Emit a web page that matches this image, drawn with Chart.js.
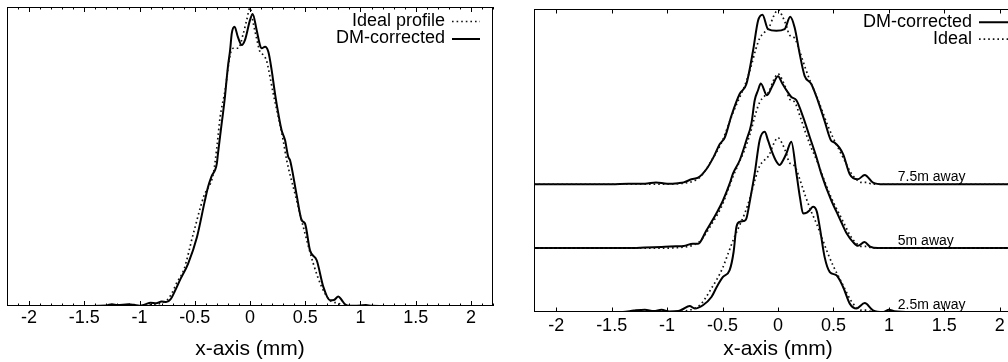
<!DOCTYPE html>
<html>
<head>
<meta charset="utf-8">
<script src="https://cdn.jsdelivr.net/npm/chart.js@4.4.1/dist/chart.umd.min.js"></script>
<style>
html,body{margin:0;padding:0;background:#fff;overflow:hidden;width:1008px;height:362px}
#leftWrap{position:absolute;left:0;top:0;width:500px;height:362px}
#rightWrap{position:absolute;left:520px;top:0;width:520px;height:362px}
</style>
</head>
<body>
<div id="leftWrap"><canvas id="leftChart" width="500" height="362"></canvas></div>
<div id="rightWrap"><canvas id="rightChart" width="520" height="362"></canvas></div>
<script>
// x ticks (mm)
const tickValues = [-2, -1.5, -1, -0.5, 0, 0.5, 1, 1.5, 2];
const tickLabels = ['-2', '-1.5', '-1', '-0.5', '0', '0.5', '1', '1.5', '2'];
const axisTitle = 'x-axis (mm)';

// left panel: single profile
const leftIdealX = [-2.2, -1.0, -0.9, -0.8, -0.75, -0.71, -0.66, -0.6, -0.513, -0.42, -0.332, -0.3, -0.27, -0.226, -0.18, -0.151, -0.106, -0.06, -0.03, 0, 0.03, 0.06, 0.09, 0.12, 0.15, 0.181, 0.21, 0.256, 0.3, 0.332, 0.407, 0.483, 0.573, 0.649, 0.724, 0.8, 0.86, 2.2];
const leftIdealY = [0, 0, 0.004, 0.01, 0.02, 0.041, 0.08, 0.12, 0.242, 0.365, 0.443, 0.53, 0.633, 0.72, 0.84, 0.862, 0.862, 0.912, 0.956, 0.997, 0.945, 0.895, 0.85, 0.84, 0.82, 0.767, 0.711, 0.633, 0.555, 0.488, 0.376, 0.264, 0.142, 0.064, 0.019, 0.009, 0, 0];

const leftDmX = [-2.2, -1.6, -1.3, -1.25, -1.2, -1.1, -1.05, -1.0, -0.95, -0.9, -0.85, -0.8, -0.76, -0.72, -0.68, -0.63, -0.56, -0.48, -0.41, -0.38, -0.35, -0.3, -0.29, -0.26, -0.23, -0.2, -0.18, -0.165, -0.14, -0.11, -0.075, -0.045, 0, 0.024, 0.06, 0.09, 0.106, 0.136, 0.166, 0.196, 0.226, 0.256, 0.286, 0.317, 0.346, 0.362, 0.42, 0.468, 0.498, 0.543, 0.604, 0.664, 0.724, 0.76, 0.8, 0.83, 0.86, 0.9, 1.0, 1.05, 1.1, 1.5, 2.2];
const leftDmY = [0, 0, 0.002, 0.006, 0.003, 0.006, 0.004, 0.001, 0.005, 0.011, 0.009, 0.015, 0.013, 0.022, 0.05, 0.09, 0.142, 0.231, 0.35, 0.398, 0.432, 0.477, 0.51, 0.6, 0.689, 0.8, 0.856, 0.912, 0.934, 0.9, 0.873, 0.89, 0.956, 0.977, 0.923, 0.873, 0.862, 0.867, 0.85, 0.789, 0.711, 0.644, 0.588, 0.555, 0.499, 0.488, 0.376, 0.287, 0.276, 0.186, 0.153, 0.064, 0.019, 0.02, 0.032, 0.02, 0.006, 0.001, 0.002, 0.003, 0.001, 0, 0];

// right panel: three distances, stacked
const distLabels = ['2.5m away', '5m away', '7.5m away'];
const distOffsets = [0, 0.35, 0.7];

const rightIdealX = [-2.2, -1.0, -0.9, -0.8, -0.75, -0.7, -0.65, -0.6, -0.55, -0.5, -0.45, -0.4, -0.35, -0.3, -0.25, -0.2, -0.165, -0.125, -0.08, -0.04, 0, 0.04, 0.08, 0.1, 0.15, 0.2, 0.25, 0.3, 0.35, 0.4, 0.45, 0.5, 0.55, 0.6, 0.65, 0.7, 0.75, 0.8, 0.85, 2.2];
const rightIdealY = [0, 0, 0.003, 0.01, 0.02, 0.04, 0.08, 0.13, 0.18, 0.24, 0.32, 0.40, 0.47, 0.54, 0.63, 0.74, 0.80, 0.83, 0.86, 0.92, 0.955, 0.92, 0.86, 0.82, 0.80, 0.72, 0.63, 0.55, 0.48, 0.40, 0.32, 0.25, 0.19, 0.13, 0.07, 0.03, 0.01, 0.01, 0, 0];

const dm25X = [-2.2, -1.4, -1.3, -1.2, -1.12, -1.05, -0.98, -0.9, -0.86, -0.797, -0.75, -0.677, -0.6, -0.55, -0.496, -0.436, -0.4, -0.375, -0.346, -0.3, -0.285, -0.25, -0.21, -0.165, -0.12, -0.09, -0.06, -0.02, 0.015, 0.045, 0.076, 0.12, 0.166, 0.2, 0.226, 0.26, 0.286, 0.316, 0.35, 0.376, 0.42, 0.467, 0.527, 0.587, 0.647, 0.707, 0.782, 0.857, 0.95, 1.0, 1.05, 1.2, 2.2];
const dm25Y = [0, 0, 0.008, 0.013, 0.005, 0.012, 0.003, 0.005, 0.015, 0.033, 0.019, 0.037, 0.082, 0.14, 0.192, 0.229, 0.33, 0.466, 0.494, 0.5, 0.512, 0.62, 0.759, 0.942, 0.987, 0.94, 0.887, 0.83, 0.805, 0.83, 0.869, 0.933, 0.759, 0.62, 0.54, 0.545, 0.558, 0.576, 0.55, 0.466, 0.302, 0.219, 0.201, 0.137, 0.046, 0.019, 0.049, 0.009, 0, 0.012, 0.004, 0, 0];

const dm5X = [-2.2, -1.3, -1.2, -1.05, -0.92, -0.85, -0.767, -0.72, -0.646, -0.556, -0.496, -0.436, -0.406, -0.346, -0.285, -0.24, -0.21, -0.18, -0.155, -0.1, -0.05, 0, 0.04, 0.076, 0.12, 0.166, 0.226, 0.286, 0.346, 0.39, 0.48, 0.527, 0.57, 0.62, 0.677, 0.72, 0.78, 0.83, 0.9, 2.2];
const dm5Y = [0, 0, 0.004, 0.006, 0.01, 0.012, 0.024, 0.024, 0.097, 0.19, 0.261, 0.353, 0.408, 0.48, 0.591, 0.682, 0.81, 0.865, 0.902, 0.838, 0.89, 0.942, 0.9, 0.865, 0.828, 0.81, 0.719, 0.609, 0.499, 0.408, 0.261, 0.2, 0.143, 0.08, 0.033, 0.013, 0.033, 0.008, 0, 0];

const dm75X = [-2.2, -1.5, -1.35, -1.2, -1.1, -1.0, -0.9, -0.85, -0.78, -0.72, -0.646, -0.58, -0.526, -0.48, -0.42, -0.346, -0.285, -0.225, -0.18, -0.14, -0.09, -0.015, 0.06, 0.11, 0.15, 0.196, 0.24, 0.30, 0.36, 0.42, 0.48, 0.51, 0.587, 0.647, 0.72, 0.782, 0.857, 0.95, 2.2];
const dm75Y = [0, 0, 0.003, 0.003, 0.01, 0.003, 0.006, 0.01, 0.027, 0.036, 0.082, 0.15, 0.219, 0.256, 0.375, 0.494, 0.549, 0.731, 0.896, 0.929, 0.85, 0.841, 0.85, 0.918, 0.859, 0.713, 0.594, 0.549, 0.457, 0.347, 0.238, 0.228, 0.165, 0.055, 0.027, 0.051, 0.009, 0, 0];

const FONT = '"Liberation Sans", Arial, Helvetica, sans-serif';
const solidStyle = {borderColor:'#000', borderWidth:2, borderDash:[]};
const dotStyle = {borderColor:'#111', borderWidth:1.7, borderDash:[1.6, 3]};

function pts(xs, ys, off){
  return xs.map((x, i) => ({x: x, y: ys[i] + (off || 0)}));
}

function line(label, data, style){
  return {label, data, ...style, pointRadius:0, fill:false, cubicInterpolationMode:'monotone'};
}

// frame box + inward gnuplot-style ticks on top and bottom
const frameTicks = {
  id:'frameTicks',
  afterDraw(chart, args, opts){
    const {ctx, chartArea:a} = chart;
    const x = chart.scales.x;
    ctx.save();
    ctx.strokeStyle = '#000';
    ctx.lineWidth = 1;
    ctx.setLineDash([]);
    ctx.strokeRect(Math.round(a.left)+0.5, Math.round(a.top)+0.5, Math.round(a.width)-1, Math.round(a.height)-1);
    ctx.beginPath();
    const tick = (v, len) => {
      const px = Math.round(x.getPixelForValue(v)) + 0.5;
      ctx.moveTo(px, a.top); ctx.lineTo(px, a.top + len);
      ctx.moveTo(px, a.bottom); ctx.lineTo(px, a.bottom - len);
    };
    tickValues.forEach(v => tick(v, opts.major));
    if(opts.minor){
      for(let k = -22; k <= 22; k++){
        if(k % 5 !== 0) tick(k / 10, opts.minor);
      }
    }
    ctx.stroke();
    ctx.restore();
  }
};

// key in the top right corner, text right-aligned with the sample after it
const keyBox = {
  id:'keyBox',
  afterDraw(chart, args, opts){
    const {ctx, chartArea:a} = chart;
    ctx.save();
    ctx.font = '18px ' + FONT;
    ctx.textAlign = 'right';
    ctx.textBaseline = 'middle';
    ctx.fillStyle = '#000';
    opts.items.forEach((it, i) => {
      const y = a.top + opts.top + i * opts.gap;
      const tx = a.right - opts.right;
      ctx.fillText(it.text, tx, y);
      ctx.beginPath();
      ctx.setLineDash(it.style.borderDash);
      ctx.lineWidth = it.style.borderWidth;
      ctx.strokeStyle = it.style.borderColor;
      ctx.moveTo(tx + 7, y + 0.5);
      ctx.lineTo(tx + 7 + opts.len, y + 0.5);
      ctx.stroke();
    });
    ctx.restore();
  }
};

// distance labels sitting on each baseline
const distText = {
  id:'distText',
  afterDraw(chart, args, opts){
    if(!opts.labels) return;
    const {ctx} = chart;
    const x = chart.scales.x, y = chart.scales.y;
    ctx.save();
    ctx.font = '14px ' + FONT;
    ctx.fillStyle = '#000';
    ctx.textAlign = 'left';
    ctx.textBaseline = 'alphabetic';
    opts.labels.forEach((t, i) => {
      ctx.fillText(t, x.getPixelForValue(opts.at), y.getPixelForValue(opts.offsets[i]) - 3);
    });
    ctx.restore();
  }
};

function makeChart(id, datasets, yMax, pad, axisH, tickPad, pluginOpts){
  return new Chart(document.getElementById(id), {
    type:'line',
    data:{datasets},
    options:{
      responsive:false,
      animation:false,
      devicePixelRatio:1,
      layout:{padding:pad},
      scales:{
        x:{
          type:'linear', min:-2.2, max:2.2,
          grid:{display:false, drawTicks:false},
          border:{display:false},
          afterBuildTicks(s){ s.ticks = tickValues.map(v => ({value:v})); },
          afterFit(s){ s.height = axisH; },
          ticks:{
            autoSkip:false, maxRotation:0, padding:tickPad, color:'#000',
            font:{family:FONT, size:18},
            callback:(v, i) => tickLabels[i]
          },
          title:{display:true, text:axisTitle, color:'#000', font:{family:FONT, size:21}, padding:{top:0, bottom:0}}
        },
        y:{display:false, min:0, max:yMax}
      },
      plugins:{
        legend:{display:false},
        tooltip:{enabled:false},
        ...pluginOpts
      }
    },
    plugins:[frameTicks, keyBox, distText]
  });
}

let leftChart, rightChart;

leftChart = makeChart('leftChart', [
  line('Ideal profile', pts(leftIdealX, leftIdealY), dotStyle),
  line('DM-corrected', pts(leftDmX, leftDmY), solidStyle)
], 1.0, {left:7, right:7, top:7, bottom:0}, 56, 1, {
  frameTicks:{major:5, minor:2.5},
  keyBox:{top:14, gap:17.5, right:48, len:28, items:[
    {text:'Ideal profile', style:dotStyle},
    {text:'DM-corrected', style:solidStyle}
  ]},
  distText:{}
});

const dmSets = [[dm25X, dm25Y], [dm5X, dm5Y], [dm75X, dm75Y]];
const rightSets = [];
dmSets.forEach((d, i) => {
  rightSets.push(line('Ideal', pts(rightIdealX, rightIdealY, distOffsets[i]), dotStyle));
  rightSets.push(line('DM-corrected', pts(d[0], d[1], distOffsets[i]), solidStyle));
});

rightChart = makeChart('rightChart', rightSets, 1.66, {left:14, right:18, top:9, bottom:0}, 50, 3, {
  frameTicks:{major:4.5, minor:0},
  keyBox:{top:12.7, gap:17, right:50, len:34, items:[
    {text:'DM-corrected', style:solidStyle},
    {text:'Ideal', style:dotStyle}
  ]},
  distText:{labels:distLabels, offsets:distOffsets, at:1.08}
});
</script>
</body>
</html>
